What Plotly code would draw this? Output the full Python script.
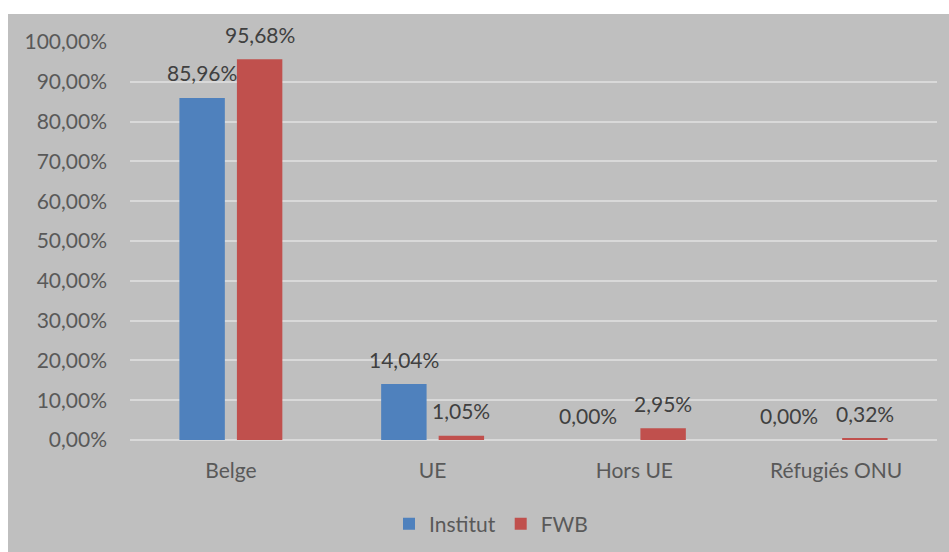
import plotly.graph_objects as go

categories = ["Belge", "UE", "Hors UE", "Réfugiés ONU"]
institut = [85.96, 14.04, 0.00, 0.00]
fwb = [95.68, 1.05, 2.95, 0.32]
y_ticks = [0, 10, 20, 30, 40, 50, 60, 70, 80, 90, 100]


def fmt(v):
    return f"{v:.2f}".replace(".", ",") + "%"


FONT = "Lato, Open Sans, sans-serif"
FS = 21
BG = "#bfbfbf"
BARGAP, GROUPGAP = 0.43, 0.21

L, R, T, B = 130, 12, 42, 112
W, H = 949, 552
pw, ph = W - L - R, H - T - B

fig = go.Figure()
series = [("Institut", institut, "#4f81bd"), ("FWB", fwb, "#c0504d")]
for name, vals, color in series:
    fig.add_trace(go.Bar(
        name=name, x=categories, y=vals,
        marker=dict(color=color, line=dict(width=0)),
    ))

# value labels above each bar, shifted to the bar's slot within the group;
# labels of empty bars are nudged left so they clear the neighbouring label
slot = pw / len(categories) * (1 - BARGAP) / len(series)
for i, (name, vals, color) in enumerate(series):
    dx = (i - (len(series) - 1) / 2) * slot
    for cat, v in zip(categories, vals):
        fig.add_annotation(
            x=cat, y=v, text=fmt(v), showarrow=False,
            xanchor="center", yanchor="middle",
            xshift=dx - (18 if v == 0 else 0), yshift=25,
            font=dict(family=FONT, size=FS, color="#404040"),
        )

fig.add_shape(
    type="rect", xref="paper", yref="paper", layer="below",
    x0=(8 - L) / pw, x1=(W - L) / pw,
    y0=-B / ph, y1=(H - B - 14) / ph,
    fillcolor=BG, line=dict(width=0),
)

fig.update_layout(
    width=W, height=H,
    margin=dict(l=L, r=R, t=T, b=B, autoexpand=False),
    paper_bgcolor="white", plot_bgcolor=BG,
    barmode="group", bargap=BARGAP, bargroupgap=GROUPGAP,
    font=dict(family=FONT, color="#595959", size=FS),
    showlegend=True,
    legend=dict(orientation="h", x=(491 - L) / pw, xanchor="center",
                y=(440 - 524) / ph, yanchor="middle", itemwidth=30,
                font=dict(family=FONT, size=FS, color="#595959"),
                bgcolor="rgba(0,0,0,0)", traceorder="normal"),
    xaxis=dict(showgrid=False, showline=False, ticks="", tickfont=dict(size=FS),
               ticklabelstandoff=16, automargin=False),
    yaxis=dict(range=[0, 100], tickvals=y_ticks, ticktext=[fmt(v) for v in y_ticks],
               showgrid=True, gridcolor="#d9d9d9", gridwidth=2,
               zeroline=True, zerolinecolor="#d9d9d9", zerolinewidth=2,
               showline=False, ticks="", tickfont=dict(size=FS), ticklabelstandoff=22,
               automargin=False),
)

fig.write_html("out.html")
